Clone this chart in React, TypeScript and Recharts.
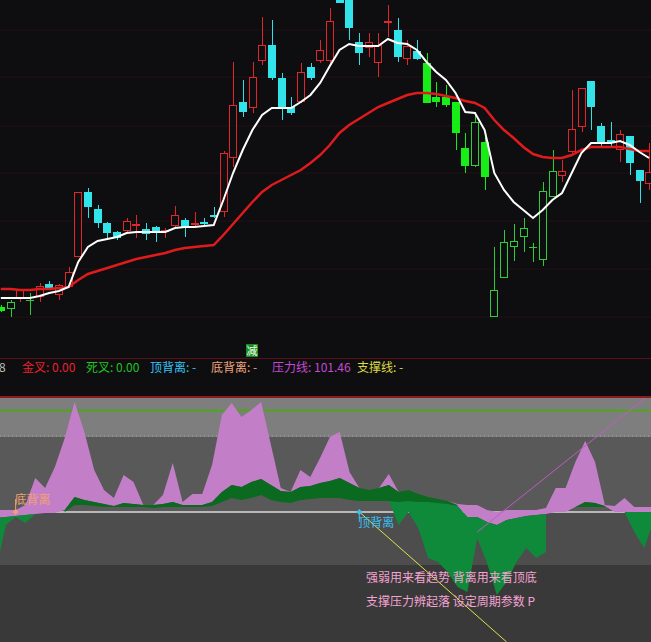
import {
  Area,
  Bar,
  CartesianGrid,
  ComposedChart,
  Line,
  ReferenceArea,
  ReferenceDot,
  ReferenceLine,
  XAxis,
  YAxis,
} from "recharts";

const BG = "#0e0e11";
const RED = "#e3262b";
const CYAN = "#33e3ea";
const GREEN = "#17ee17";
const GREEN_HOLLOW = "#2fcf3a";
const FONT = '"Noto Sans CJK SC", "Noto Sans", sans-serif';

// one slot per trading day; the first day sits on the left edge
const SLOT = 9.676;
const DAYS = 68;
const CHART_W = SLOT * DAYS;
const CHART_LEFT = 0.34 - SLOT / 2;

// ---- price panel ----
const opens = [
  5.1, 4.9, 6.0, 5.7, 6.1, 7.4, 6.3, 7.1, 10.1, 16.6,
  14.9, 13.5, 12.6, 12.7, 13.2, 12.9, 13.1, 12.6, 13.2, 13.8,
  13.3, 13.6, 14.3, 14.6, 20.0, 25.6, 25.0, 29.7, 31.3, 28.0,
  25.1, 25.6, 29.1, 29.7, 29.7, 36.4, 36.2, 31.6, 31.0, 29.5,
  33.5, 32.8, 29.9, 30.7, 29.5, 26.1, 26.1, 25.6, 21.0, 19.2,
  21.6, 4.1, 8.0, 11.1, 12.1, 11.0, 9.8, 16.1, 18.2, 20.6,
  23.1, 27.7, 23.2, 21.8, 20.8, 22.2, 18.8, 17.4,
];
const closes = [
  4.7, 5.6, 6.8, 5.75, 7.2, 7.0, 7.3, 8.6, 16.6, 15.1,
  13.5, 12.5, 12.0, 13.7, 13.4, 12.4, 12.6, 12.8, 14.3, 13.0,
  13.5, 13.4, 14.1, 20.5, 25.3, 24.6, 28.1, 31.3, 28.0, 25.0,
  24.5, 28.6, 28.0, 30.8, 33.7, 35.5, 33.0, 30.5, 31.6, 31.3,
  33.7, 30.1, 31.2, 29.9, 25.5, 25.6, 25.3, 22.5, 19.2, 23.6,
  18.1, 6.8, 11.6, 11.7, 13.0, 11.05, 16.7, 18.7, 18.7, 22.9,
  27.0, 25.1, 21.6, 21.5, 22.4, 19.5, 17.7, 18.6,
];
const highs = [
  5.3, 5.8, 6.9, 6.5, 7.5, 7.7, 7.4, 9.1, 16.6, 17.0,
  15.3, 13.6, 12.7, 14.0, 14.3, 13.5, 13.2, 13.0, 15.2, 14.0,
  14.6, 14.0, 15.1, 20.7, 29.6, 27.8, 29.6, 34.1, 33.8, 28.5,
  26.1, 29.5, 29.5, 31.8, 35.0, 36.6, 36.6, 32.5, 32.5, 32.5,
  35.3, 34.0, 31.8, 31.8, 30.5, 27.6, 27.3, 25.6, 22.5, 24.6,
  22.1, 11.1, 12.8, 13.4, 14.0, 11.5, 17.6, 20.8, 19.8, 26.8,
  27.0, 27.7, 23.5, 23.6, 22.8, 22.2, 18.8, 21.5,
];
const lows = [
  4.6, 4.1, 5.6, 4.3, 5.6, 6.8, 5.8, 7.0, 10.1, 14.0,
  13.0, 11.8, 11.8, 12.5, 12.0, 11.8, 11.6, 12.0, 13.0, 12.1,
  13.0, 13.2, 14.0, 14.1, 19.1, 24.1, 24.5, 29.3, 27.8, 23.8,
  24.3, 25.5, 27.8, 29.5, 29.5, 35.5, 31.8, 29.3, 30.1, 28.1,
  32.1, 29.6, 29.3, 29.8, 25.5, 25.1, 25.1, 20.8, 18.5, 19.1,
  16.8, 4.1, 8.0, 9.7, 10.6, 9.6, 9.2, 16.1, 17.6, 20.5,
  22.6, 22.8, 21.0, 21.0, 19.6, 18.3, 15.5, 16.8,
];
// 1 = strong phase (red / cyan candles), 0 = weak phase (green candles)
const phase = [
  0, 0, 1, 0, 1, 1, 1, 1, 1, 1,
  1, 1, 1, 1, 1, 1, 1, 1, 1, 1,
  1, 1, 1, 1, 1, 1, 1, 1, 1, 1,
  1, 1, 1, 1, 1, 1, 1, 1, 1, 1,
  1, 1, 1, 1, 0, 0, 0, 0, 0, 0,
  0, 0, 0, 0, 0, 0, 0, 0, 1, 1,
  1, 1, 1, 1, 1, 1, 1, 1,
];
const maFast = [
  6.0, 6.0, 6.0, 6.0, 6.2, 6.5, 6.7, 7.1, 9.6, 11.1,
  11.7, 11.9, 12.1, 12.5, 12.6, 12.6, 12.6, 12.6, 13.0, 13.1,
  13.1, 13.2, 13.3, 15.8, 18.5, 20.8, 22.8, 24.3, 25.0, 25.0,
  25.0, 25.6, 26.3, 27.5, 29.2, 30.8, 31.4, 31.2, 31.2, 31.2,
  31.9, 31.5, 31.4, 30.8, 29.6, 28.6, 27.8, 26.5, 24.6, 24.5,
  22.8, 18.5, 16.8, 15.6, 14.8, 14.0, 14.8, 15.8, 16.5, 18.5,
  20.5, 21.5, 21.5, 21.5, 21.7, 21.3, 20.6, 20.0,
];
const maSlow = [
  6.9, 6.9, 6.8, 6.8, 6.9, 6.9, 7.0, 7.1, 7.8, 8.4,
  8.7, 9.0, 9.3, 9.6, 9.9, 10.1, 10.3, 10.5, 10.8, 11.0,
  11.1, 11.2, 11.3, 12.3, 13.4, 14.5, 15.6, 16.6, 17.3, 17.8,
  18.3, 18.8, 19.5, 20.3, 21.3, 22.5, 23.3, 23.9, 24.5, 25.1,
  25.5, 25.9, 26.3, 26.5, 26.5, 26.4, 26.2, 26.0, 25.7, 25.5,
  25.0, 23.8, 22.8, 22.0, 21.1, 20.4, 20.1, 20.0, 20.0, 20.3,
  20.8, 21.1, 21.1, 21.1, 21.1, 20.9, 20.7, 20.7,
];
const priceGrid = [32.8, 28.1, 23.2, 18.5, 13.7, 8.9, 4.1];

// ---- indicator panel ----
const strengthHi = [
  2, 2, 2, 7, 34, 24, 45, 74, 110, 80,
  42, 22, 14, 37, 30, 7, 7, 17, 49, 10,
  18, 18, 47, 97, 109, 95, 102, 110, 67, 24,
  20, 42, 35, 54, 75, 80, 40, 24, 22, 24,
  38, 20, 22, 18, 15, 13, 11, 8, 7, 7,
  2, 0, 2, 2, 2, 2, 4, 24, 24, 50,
  71, 50, 7, 6, 14, 5, 5, 5,
];
const strengthLo = [
  -6, -5, -4, -3, -2, -1, -1, 2, 15, 12,
  10, 8, 6, 9, 8, 7, 7, 8, 10, 7,
  7, 7, 10, 20, 27, 25, 30, 33, 27, 21,
  20, 25, 26, 29, 31, 34, 29, 24, 22, 24,
  27, 20, 22, 18, 15, 13, 11, 6, -5, -5,
  -10, -13, -8, -6, -4, -3, -2, 0, 0, 5,
  10, 9, 6, 0, 0, 0, 0, 0,
];
const trendHi = [
  ...Array(7).fill(null), 2, 15, 12,
  10, 8, 6, 9, 8, 7, 7, 8, 10, 7,
  7, 7, 10, 20, 27, 25, 30, 33, 27, 21,
  20, 25, 26, 29, 31, 34, 29, 24, 22, 24,
  27, 20, 22, 18, 15, 13, 11, 7, null, null,
  ...Array(9).fill(null), 5,
  10, 9, 6, ...Array(5).fill(null),
];
const trendLo = [
  ...Array(7).fill(null), 0, 7, 7,
  6, 5, 5, 5, 5, 5, 4, 5, 5, 5,
  5, 5, 6, 10, 14, 12, 14, 17, 12, 10,
  9, 12, 13, 14, 14, 14, 12, 11, 11, 11,
  11, 10, 11, 10, 10, 9, 8, 6, null, null,
  ...Array(9).fill(null), 5,
  5, 5, 5, ...Array(5).fill(null),
];
const weakHi = [
  -6, -5, -4, -3, -2, ...Array(35).fill(null),
  11, 10, 11, 10, 10, 9, 8, 6, -5, -5,
  -10, -13, -8, -6, -4, -3, -2, ...Array(7).fill(null),
  0, 0, 0, 0,
];
const weakLo = [
  -58, -13, -5, -11, -2, ...Array(35).fill(null),
  11, -13, 0, -16, -46, -50, -60, -75, -80, -26,
  -51, -83, -70, -50, -36, -46, -40, ...Array(7).fill(null),
  0, -20, -36, -8,
];
const pressure = 101.46;
// trend lines drawn between two days
const riseEnds: Record<number, number> = { 49: -20, 67: 121 };
const fallEnds: Record<number, number> = { 37: 0, 52: -130 };
const bottomDivergenceDay = 2;
const topDivergenceDay = 37;

const days = opens.map((open, i) => ({
  i,
  open,
  close: closes[i],
  high: highs[i],
  low: lows[i],
  strong: phase[i] === 1,
  maFast: maFast[i],
  maSlow: maSlow[i],
}));

const indicator = strengthHi.map((hi, i) => ({
  i,
  strength: [strengthLo[i], hi],
  trend: trendHi[i] == null ? null : [trendLo[i], trendHi[i]],
  weak: weakHi[i] == null ? null : [weakLo[i], weakHi[i]],
  rise: riseEnds[i] ?? null,
  fall: fallEnds[i] ?? null,
}));

function Candle(props: any) {
  const { x, y, width, height, payload } = props;
  if (!payload || x == null || y == null) return null;
  const { open, close, high, low, strong } = payload;
  const top = Math.min(y, y + height);
  const bottom = Math.max(y, y + height);
  const span = high - low;
  const at = (v: number) => (span > 0 ? top + ((high - v) / span) * (bottom - top) : top);
  const rising = close >= open;
  const color = strong ? (rising ? RED : CYAN) : rising ? GREEN_HOLLOW : GREEN;
  const bx = Math.round(x);
  const cx = bx + Math.floor(width / 2) + 0.5;
  const bodyTop = at(Math.max(open, close));
  const bodyBottom = at(Math.min(open, close));
  const flat = bodyBottom - bodyTop < 1.5;
  return (
    <g>
      <line x1={cx} x2={cx} y1={top} y2={bodyTop} stroke={color} />
      <line x1={cx} x2={cx} y1={bodyBottom} y2={bottom} stroke={color} />
      {flat ? (
        <line x1={bx} x2={bx + width} y1={bodyTop} y2={bodyTop} stroke={color} />
      ) : rising ? (
        <rect
          x={bx + 0.5}
          y={bodyTop + 0.5}
          width={width - 1}
          height={bodyBottom - bodyTop - 1}
          fill={BG}
          stroke={color}
        />
      ) : (
        <rect x={bx} y={bodyTop} width={width} height={bodyBottom - bodyTop} fill={color} />
      )}
    </g>
  );
}

function Divergence({ cx, cy, text, color, up }: any) {
  if (cx == null || cy == null) return null;
  const stick = up ? -13 : 10;
  return (
    <g>
      <line x1={cx} x2={cx} y1={cy} y2={cy + stick} stroke={color} />
      <path d={`M${cx} ${cy - 3} L${cx + 3} ${cy} L${cx} ${cy + 3} L${cx - 3} ${cy} Z`} fill={color} />
      <text x={cx - 1} y={up ? cy - 8 : cy + 15} fill={color} fontSize={12} fontFamily={FONT}>
        {text}
      </text>
    </g>
  );
}

const legend = [
  { left: -1, color: "#bdbdbd", text: "8" },
  { left: 22, color: "#e8202a", text: "金叉: 0.00" },
  { left: 86, color: "#22c322", text: "死叉: 0.00" },
  { left: 150, color: "#36c2f2", text: "顶背离: -" },
  { left: 211, color: "#f2a47c", text: "底背离: -" },
  { left: 272, color: "#c24ad0", text: `压力线: ${pressure}` },
  { left: 357, color: "#dcdc40", text: "支撑线: -" },
];

export default function App() {
  return (
    <div
      style={{
        position: "absolute",
        top: 0,
        left: 0,
        width: 651,
        height: 642,
        overflow: "hidden",
        background: BG,
        fontFamily: FONT,
      }}
    >
      <div style={{ position: "absolute", top: 0, left: CHART_LEFT }}>
        <ComposedChart
          width={CHART_W}
          height={358}
          data={days}
          margin={{ top: 0, right: 0, bottom: 0, left: 0 }}
        >
          <CartesianGrid vertical={false} horizontalValues={priceGrid} stroke="#211114" />
          <XAxis dataKey="i" hide />
          <YAxis hide domain={[0, 35.8]} allowDataOverflow />
          <Bar
            dataKey={(d: any) => [d.low, d.high]}
            barSize={8}
            shape={Candle}
            activeBar={false}
            isAnimationActive={false}
          />
          <Line
            dataKey="maSlow"
            stroke="#e01b1b"
            strokeWidth={2.5}
            dot={false}
            activeDot={false}
            type="linear"
            isAnimationActive={false}
          />
          <Line
            dataKey="maFast"
            stroke="#ffffff"
            strokeWidth={2}
            dot={false}
            activeDot={false}
            type="linear"
            isAnimationActive={false}
          />
        </ComposedChart>
      </div>

      <div style={{ position: "absolute", top: 358, left: 0, width: 651, height: 1, background: "#5a1016" }} />
      <div
        style={{
          position: "absolute",
          top: 344,
          left: 246,
          width: 12,
          height: 13,
          background: "#1f8a24",
          color: "#e9ffe6",
          fontSize: 11,
          lineHeight: "13px",
          textAlign: "center",
        }}
      >
        减
      </div>

      {legend.map((l) => (
        <div
          key={l.text}
          style={{
            position: "absolute",
            top: 360,
            left: l.left,
            color: l.color,
            fontSize: 12,
            lineHeight: "14px",
            whiteSpace: "nowrap",
          }}
        >
          {l.text}
        </div>
      ))}

      <div style={{ position: "absolute", top: 396, left: 0, width: 651, height: 2, background: "#8c1a1a" }} />

      <div style={{ position: "absolute", top: 398, left: CHART_LEFT }}>
        <ComposedChart
          width={CHART_W}
          height={244}
          data={indicator}
          margin={{ top: 0, right: 0, bottom: 0, left: 0 }}
        >
          <XAxis dataKey="i" hide />
          <YAxis hide domain={[-130, 114]} allowDataOverflow />
          <ReferenceArea y1={75} y2={114} fill="#7e7e7e" fillOpacity={1} stroke="none" zIndex={-80} />
          <ReferenceArea y1={0} y2={75} fill="#595959" fillOpacity={1} stroke="none" zIndex={-80} />
          <ReferenceArea y1={-53} y2={0} fill="#4d4d4d" fillOpacity={1} stroke="none" zIndex={-80} />
          <ReferenceArea y1={-130} y2={-53} fill="#393939" fillOpacity={1} stroke="none" zIndex={-80} />
          <ReferenceLine y={76} stroke="#a9a9a9" strokeDasharray="1 3" zIndex={-70} />
          <ReferenceLine y={pressure} stroke="#4ea51c" strokeWidth={2} zIndex={-70} />
          <ReferenceLine y={0} stroke="#b9b9b9" strokeWidth={2} zIndex={-70} />
          <Area
            dataKey="strength"
            type="linear"
            fill="#c27fc8"
            fillOpacity={1}
            stroke="none"
            activeDot={false}
            isAnimationActive={false}
          />
          <Area
            dataKey="weak"
            type="linear"
            fill="#0f8a3b"
            fillOpacity={1}
            stroke="none"
            activeDot={false}
            isAnimationActive={false}
          />
          <Area
            dataKey="trend"
            type="linear"
            fill="#0a6a1f"
            fillOpacity={1}
            stroke="none"
            activeDot={false}
            isAnimationActive={false}
          />
          <Line
            dataKey="rise"
            stroke="#c25ac4"
            strokeWidth={1}
            dot={false}
            activeDot={false}
            connectNulls
            isAnimationActive={false}
          />
          <Line
            dataKey="fall"
            stroke="#e2e24a"
            strokeWidth={1}
            dot={false}
            activeDot={false}
            connectNulls
            isAnimationActive={false}
          />
          <ReferenceDot
            x={bottomDivergenceDay}
            y={0}
            shape={(p: any) => <Divergence {...p} text="底背离" color="#f2a070" up />}
          />
          <ReferenceDot
            x={topDivergenceDay}
            y={0}
            shape={(p: any) => <Divergence {...p} text="顶背离" color="#38bff0" />}
          />
        </ComposedChart>
      </div>

      <div style={{ position: "absolute", top: 570, left: 366, color: "#f5a3d3", fontSize: 12, lineHeight: "14px", whiteSpace: "nowrap" }}>
        强弱用来看趋势 背离用来看顶底
      </div>
      <div style={{ position: "absolute", top: 594, left: 366, color: "#f5a3d3", fontSize: 12, lineHeight: "14px", whiteSpace: "nowrap" }}>
        支撑压力辨起落 设定周期参数 P
      </div>
    </div>
  );
}
